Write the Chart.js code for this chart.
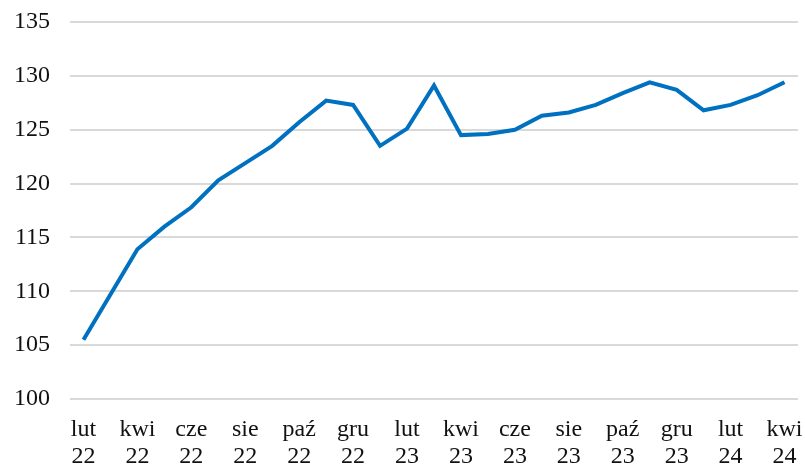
<!DOCTYPE html>
<html>
<head>
<meta charset="utf-8">
<script src="https://cdn.jsdelivr.net/npm/chart.js@4/dist/chart.umd.min.js"></script>
<style>
  html, body { margin: 0; padding: 0; background: #fff; }
  #wrap { width: 805px; height: 468px; position: relative; }
</style>
</head>
<body>
<div id="wrap"><canvas id="chart"></canvas></div>
<script>
const categories = [
  'lut 22', 'mar 22', 'kwi 22', 'maj 22', 'cze 22', 'lip 22', 'sie 22', 'wrz 22', 'paź 22', 'lis 22', 'gru 22',
  'sty 23', 'lut 23', 'mar 23', 'kwi 23', 'maj 23', 'cze 23', 'lip 23', 'sie 23', 'wrz 23', 'paź 23', 'lis 23', 'gru 23',
  'sty 24', 'lut 24', 'mar 24', 'kwi 24'
];
const values = [
  105.5, 109.7, 113.9, 116.0, 117.8, 120.3, 121.9, 123.5, 125.7, 127.7, 127.3,
  123.5, 125.1, 129.1, 124.5, 124.6, 125.0, 126.3, 126.6, 127.3, 128.4, 129.4, 128.7,
  126.8, 127.3, 128.2, 129.4
];
const yTicks = [100, 105, 110, 115, 120, 125, 130, 135];

const font = { family: "'Liberation Serif', 'DejaVu Serif', serif", size: 24, lineHeight: 1.1 };

new Chart(document.getElementById('chart').getContext('2d'), {
  type: 'line',
  data: {
    labels: categories,
    datasets: [{
      data: values,
      borderColor: '#0070c0',
      borderWidth: 4,
      pointRadius: 0,
      tension: 0,
      fill: false,
    }],
  },
  options: {
    responsive: true,
    maintainAspectRatio: false,
    animation: false,
    layout: { padding: { top: 22, right: 7 } },
    plugins: { legend: { display: false }, tooltip: { enabled: false } },
    scales: {
      x: {
        offset: true,
        grid: { display: false, drawTicks: false },
        border: { display: false },
        afterFit: s => { s.height = 69; s.paddingLeft = 0; s.paddingRight = 0; },
        ticks: {
          color: '#111',
          font,
          padding: 18,
          autoSkip: false,
          maxRotation: 0,
          callback: (v, i) => i % 2 === 0 ? categories[i].split(' ') : '',
        },
      },
      y: {
        min: yTicks[0],
        max: yTicks[yTicks.length - 1],
        afterBuildTicks: s => { s.ticks = yTicks.map(v => ({ value: v })); },
        afterFit: s => { s.width = 70; s.paddingTop = 0; s.paddingBottom = 0; },
        grid: { color: '#d9d9d9', lineWidth: 2, drawTicks: false },
        border: { display: false },
        ticks: { color: '#111', font, padding: 20 },
      },
    },
  },
});
</script>
</body>
</html>
